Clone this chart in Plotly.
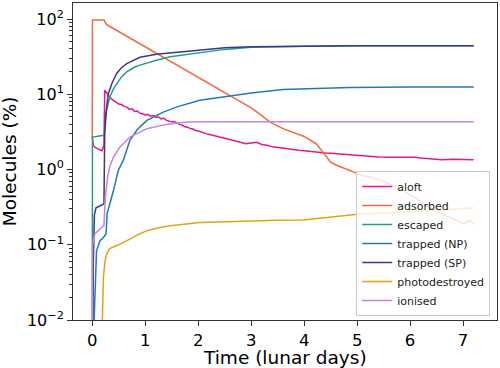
import plotly.graph_objects as go

# ---- data ----
aloft_t = [0.0, 0.02, 0.06, 0.10, 0.14, 0.18, 0.205, 0.22, 0.235, 0.26, 0.30, 0.34, 0.38, 0.42, 0.46,
           0.50, 0.55, 0.60, 0.65, 0.70, 0.75, 0.80, 0.85, 0.90, 0.95, 1.00, 1.05, 1.10, 1.15, 1.20,
           1.25, 1.30, 1.35, 1.40, 1.45, 1.50, 1.55, 1.60, 1.65, 1.70, 1.75, 1.80, 1.85, 1.90, 1.95,
           2.00, 2.05, 2.10, 2.15, 2.20, 2.30, 2.40, 2.50, 2.60, 2.70, 2.80, 2.90, 3.00, 3.10, 3.20,
           3.30, 3.40, 3.50, 3.60, 3.70, 3.80, 3.90, 4.00, 4.10, 4.20, 4.30, 4.40, 4.50, 4.60, 4.70,
           4.80, 4.90, 5.00, 5.20, 5.40, 5.60, 5.80, 6.00, 6.10, 6.20, 6.40, 6.60, 6.80, 7.00, 7.20]
aloft_v = [2.74, 2.1, 1.95, 1.9, 1.85, 1.78, 1.95, 2.1, 11.3, 10.6, 9.6, 9.0, 8.5, 8.1, 7.9,
           7.4, 7.3, 6.9, 6.8, 6.3, 6.4, 5.9, 6.0, 5.6, 5.5, 5.3, 5.4, 5.1, 5.2, 4.95,
           5.0, 4.7, 4.8, 4.5, 4.4, 4.3, 4.35, 4.1, 3.95, 3.9, 3.7, 3.65, 3.5, 3.45, 3.3,
           3.25, 3.15, 3.05, 3.0, 2.95, 2.8, 2.7, 2.6, 2.5, 2.4, 2.3, 2.2, 2.25, 2.3, 2.15,
           2.1, 2.0, 1.95, 1.9, 1.88, 1.82, 1.8, 1.78, 1.74, 1.72, 1.70, 1.66, 1.64, 1.62, 1.58,
           1.56, 1.55, 1.52, 1.5, 1.47, 1.46, 1.45, 1.47, 1.45, 1.42, 1.38, 1.35, 1.37, 1.36, 1.35]

adsorbed_t = [0.0, 0.003, 0.22, 0.25, 0.27, 0.30, 0.5, 0.75, 1.0, 1.25, 1.5, 1.75, 2.0, 2.25, 2.5,
              2.75, 3.0, 3.2, 3.35, 3.6, 3.86, 4.0, 4.23, 4.3, 4.4, 4.5, 4.6, 4.7, 4.87, 5.11,
              5.37, 5.62, 5.87, 6.1, 6.37, 6.75, 7.0, 7.13, 7.2]
adsorbed_v = [2.7, 97, 97, 90, 84, 82, 68, 54, 43, 34, 26.5, 21, 16.5, 13, 10.3,
              8.2, 6.6, 5.2, 4.3, 3.5, 3.0, 2.75, 2.2, 1.9, 1.5, 1.25, 1.15, 1.08, 0.97, 0.83,
              0.75, 0.64, 0.52, 0.42, 0.31, 0.23, 0.19, 0.21, 0.19]

escaped_t = [0.0, 0.003, 0.22, 0.24, 0.27, 0.33, 0.4, 0.46, 0.55, 0.65, 0.8, 0.9, 1.05, 1.21, 1.47,
             1.75, 2.03, 2.5, 3.0, 3.5, 4.0, 5.0, 6.0, 7.2]
escaped_v = [0.005, 2.7, 2.85, 3.5, 6.1, 9.2, 11.8, 13.9, 17, 19.8, 23, 24.4, 26.5, 28.3, 31.5,
             33.5, 35.5, 39.5, 42, 43, 43.5, 44, 44, 44]

trapped_np_t = [0.02, 0.05, 0.08, 0.145, 0.21, 0.26, 0.28, 0.4, 0.49, 0.585, 0.71, 0.85, 1.03, 1.34,
                1.6, 2.03, 2.66, 3.0, 3.6, 4.86, 6.0, 7.2]
trapped_np_v = [0.005, 0.022, 0.083, 0.113, 0.125, 0.14, 0.26, 0.525, 0.97, 1.32, 2.44, 3.4, 4.5, 5.8,
                6.8, 8.3, 9.7, 10.4, 11.6, 12.3, 12.5, 12.5]

trapped_sp_t = [0.01, 0.02, 0.04, 0.07, 0.15, 0.22, 0.235, 0.25, 0.30, 0.37, 0.46, 0.55, 0.65, 0.9,
                1.21, 1.5, 2.03, 2.5, 3.0, 4.0, 5.0, 7.2]
trapped_sp_v = [0.005, 0.06, 0.25, 0.31, 0.33, 0.35, 3.0, 5.0, 10, 13.9, 18.9, 22.5, 25.6, 31,
                34, 35.5, 39, 41.5, 42.8, 43.8, 44, 44.2]

photo_t = [0.18, 0.19, 0.21, 0.24, 0.27, 0.32, 0.37, 0.45, 0.52, 0.6, 0.71, 0.85, 1.03, 1.25, 1.47,
           2.03, 2.98, 3.5, 3.98, 4.5, 5.05, 5.5, 6.12, 6.6, 7.2]
photo_v = [0.005, 0.01, 0.037, 0.06, 0.075, 0.088, 0.092, 0.097, 0.102, 0.108, 0.119, 0.135, 0.154,
           0.168, 0.179, 0.198, 0.21, 0.212, 0.213, 0.235, 0.256, 0.265, 0.278, 0.29, 0.31]

ionised_t = [0.0, 0.005, 0.05, 0.15, 0.22, 0.25, 0.29, 0.33, 0.40, 0.52, 0.71, 1.03, 1.4, 1.78, 2.2, 7.2]
ionised_v = [0.005, 0.1, 0.14, 0.16, 0.18, 0.47, 0.8, 1.1, 1.46, 1.98, 2.7, 3.49, 3.98, 4.27, 4.3, 4.3]

x_tick_vals = [0, 1, 2, 3, 4, 5, 6, 7]
y_tick_vals = [0.01, 0.1, 1, 10, 100]
y_tick_text = ["10<sup>\u22122</sup>", "10<sup>\u22121</sup>", "10<sup>0</sup>", "10<sup>1</sup>", "10<sup>2</sup>"]
x_title = "Time (lunar days)"
y_title = "Molecules (%)"

series = [
    ("aloft", aloft_t, aloft_v, "#e6178f"),
    ("adsorbed", adsorbed_t, adsorbed_v, "#f4693a"),
    ("escaped", escaped_t, escaped_v, "#259d84"),
    ("trapped (NP)", trapped_np_t, trapped_np_v, "#1f7ab8"),
    ("trapped (SP)", trapped_sp_t, trapped_sp_v, "#3d3590"),
    ("photodestroyed", photo_t, photo_v, "#dea51b"),
    ("ionised", ionised_t, ionised_v, "#c583dc"),
]

fig = go.Figure()
for name, t, v, c in series:
    fig.add_trace(go.Scatter(x=t, y=v, mode="lines", name=name,
                             line=dict(color=c, width=1.5)))

minor_vals = [m * 10 ** e for e in range(-2, 2) for m in range(2, 10)]

font = "DejaVu Sans"
fig.update_layout(
    width=500, height=368, autosize=False,
    margin=dict(l=73, r=3, t=3, b=48),
    paper_bgcolor="white", plot_bgcolor="white",
    font=dict(family=font, color="black"),
    showlegend=True,
    legend=dict(x=0.668, y=0.013, xanchor="left", yanchor="bottom",
                bgcolor="rgba(255,255,255,0.8)", bordercolor="#cccccc", borderwidth=1,
                font=dict(family=font, size=11, color="#222"),
                itemwidth=30, tracegroupgap=0),
    annotations=[
        dict(text=x_title, xref="paper", yref="paper", x=0.5, y=-0.117,
             xanchor="center", yanchor="middle", showarrow=False,
             font=dict(family=font, size=18.5, color="black")),
        dict(text=y_title, xref="paper", yref="paper", x=-0.149, y=0.5,
             xanchor="center", yanchor="middle", showarrow=False, textangle=-90,
             font=dict(family=font, size=18.5, color="black")),
    ],
)
fig.update_xaxes(
    range=[-0.364, 7.64], tickvals=x_tick_vals, ticks="outside", ticklen=5, tickwidth=1,
    tickcolor="#333", showline=True, linecolor="#333", linewidth=1, mirror=True,
    showgrid=False, zeroline=False, tickfont=dict(size=16.5), automargin=False,
)
fig.update_yaxes(
    type="log", range=[-2, 2.213], tickvals=y_tick_vals, ticktext=y_tick_text,
    ticks="outside", ticklen=5, tickwidth=1, tickcolor="#333",
    minor=dict(tickvals=minor_vals, ticks="outside", ticklen=3, tickwidth=0.8, tickcolor="#333", showgrid=False),
    showline=True, linecolor="#333", linewidth=1, mirror=True,
    showgrid=False, zeroline=False, tickfont=dict(size=16), automargin=False,
)

fig.write_html("out.html", config={"displayModeBar": False},
               post_script="document.body.style.margin='0';document.body.style.overflow='hidden';")
